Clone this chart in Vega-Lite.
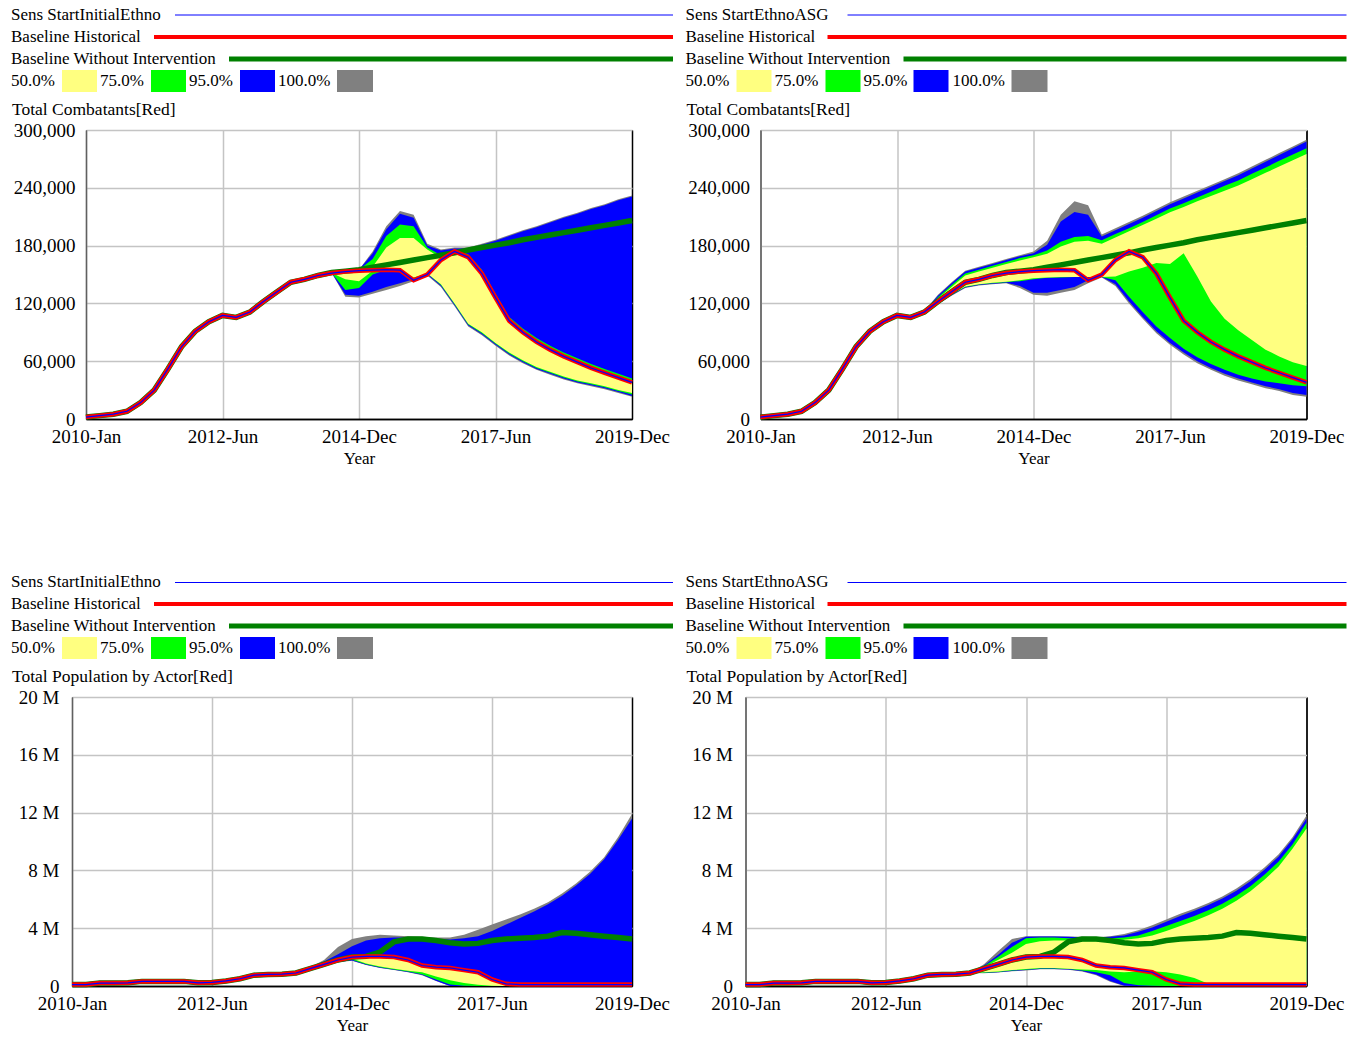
{
"$schema": "https://vega.github.io/schema/vega-lite/v6.json",
"padding": {"left": 10, "top": 4, "right": 0, "bottom": 0},
"background": "#ffffff",
"config": {
  "font": "Liberation Serif",
  "view": {"stroke": "#000000", "strokeWidth": 1},
  "axis": {"labelFont": "Liberation Serif", "labelFontSize": 19, "labelColor": "#000000", "titleFont": "Liberation Serif", "titleFontSize": 17, "titleFontWeight": "normal", "titleColor": "#000000", "ticks": false, "gridColor": "#c4c4c4", "gridWidth": 1.5, "labelOverlap": false, "labelFlush": false, "labelBound": false, "zindex": 1},
  "axisX": {"domainColor": "#000000", "domainWidth": 1.5, "labelPadding": 8, "titlePadding": 4.5},
  "axisY": {"domainColor": "#606060", "domainWidth": 1.5, "labelPadding": 11},
  "title": {"font": "Liberation Serif", "fontSize": 17.5, "fontWeight": "normal", "anchor": "start", "frame": "bounds", "offset": 3, "color": "#000000"}
},
"datasets": {
  "legend": [
    {"p": "L", "row": 0, "label": "Sens StartInitialEthno", "lx": 0, "s": "sens", "x1": 164, "x2": 662},
    {"p": "L", "row": 1, "label": "Baseline Historical", "lx": 0, "s": "hist", "x1": 143, "x2": 662},
    {"p": "L", "row": 2, "label": "Baseline Without Intervention", "lx": 0, "s": "base", "x1": 218, "x2": 662},
    {"p": "L", "row": 3, "label": "50.0%", "lx": 0, "s": "50.0%", "x1": 51, "x2": 86},
    {"p": "L", "row": 3, "label": "75.0%", "lx": 89, "s": "75.0%", "x1": 140, "x2": 175},
    {"p": "L", "row": 3, "label": "95.0%", "lx": 178, "s": "95.0%", "x1": 229, "x2": 264},
    {"p": "L", "row": 3, "label": "100.0%", "lx": 267, "s": "100.0%", "x1": 326, "x2": 362},
    {"p": "R", "row": 0, "label": "Sens StartEthnoASG", "lx": 0, "s": "sens", "x1": 162, "x2": 661},
    {"p": "R", "row": 1, "label": "Baseline Historical", "lx": 0, "s": "hist", "x1": 142, "x2": 661},
    {"p": "R", "row": 2, "label": "Baseline Without Intervention", "lx": 0, "s": "base", "x1": 218, "x2": 661},
    {"p": "R", "row": 3, "label": "50.0%", "lx": 0, "s": "50.0%", "x1": 51, "x2": 86},
    {"p": "R", "row": 3, "label": "75.0%", "lx": 89, "s": "75.0%", "x1": 140, "x2": 175},
    {"p": "R", "row": 3, "label": "95.0%", "lx": 178, "s": "95.0%", "x1": 228, "x2": 263},
    {"p": "R", "row": 3, "label": "100.0%", "lx": 267, "s": "100.0%", "x1": 326, "x2": 362}
  ],
  "comb": [
    {"t": 2010, "hist": 2, "sens": 2, "base": 2},
    {"t": 2010.25, "hist": 3.5, "sens": 3.5, "base": 3.5},
    {"t": 2010.5, "hist": 5, "sens": 5, "base": 5},
    {"t": 2010.75, "hist": 8, "sens": 8, "base": 8},
    {"t": 2011, "hist": 17, "sens": 17, "base": 17},
    {"t": 2011.25, "hist": 30, "sens": 30, "base": 30},
    {"t": 2011.5, "hist": 52, "sens": 52, "base": 52},
    {"t": 2011.75, "hist": 75, "sens": 75, "base": 75},
    {"t": 2012, "hist": 91, "sens": 91, "base": 91},
    {"t": 2012.25, "hist": 101, "sens": 101, "base": 101},
    {"t": 2012.5, "hist": 107.5, "sens": 107.5, "base": 107.5},
    {"t": 2012.75, "hist": 105.5, "sens": 105.5, "base": 105.5},
    {"t": 2013, "hist": 111, "sens": 111, "base": 111, "R100lo": 110, "R100hi": 112, "R95lo": 110.2, "R95hi": 111.8, "R75lo": 110.4, "R75hi": 111.6, "R50lo": 110.6, "R50hi": 111.4},
    {"t": 2013.25, "hist": 122, "sens": 122, "base": 122, "R100lo": 119, "R100hi": 129, "R95lo": 119.5, "R95hi": 128, "R75lo": 120, "R75hi": 126.5, "R50lo": 120.5, "R50hi": 125},
    {"t": 2013.5, "hist": 132, "sens": 132, "base": 132, "R100lo": 128, "R100hi": 142, "R95lo": 128.5, "R95hi": 141, "R75lo": 129, "R75hi": 139, "R50lo": 129.5, "R50hi": 137},
    {"t": 2013.75, "hist": 142, "sens": 142, "base": 142, "R100lo": 136, "R100hi": 154, "R95lo": 136.5, "R95hi": 153, "R75lo": 137, "R75hi": 151, "R50lo": 137.5, "R50hi": 149},
    {"t": 2014, "hist": 145, "sens": 145, "base": 145, "R100lo": 138.5, "R100hi": 158, "R95lo": 139, "R95hi": 157, "R75lo": 139.5, "R75hi": 155, "R50lo": 140, "R50hi": 153},
    {"t": 2014.25, "hist": 149, "sens": 149, "base": 149, "R100lo": 140, "R100hi": 162, "R95lo": 140.5, "R95hi": 161, "R75lo": 141, "R75hi": 159, "R50lo": 141.5, "R50hi": 157},
    {"t": 2014.5, "hist": 151.5, "sens": 151.5, "base": 152, "L100lo": 151.5, "L100hi": 151.5, "L95lo": 151.5, "L95hi": 151.5, "L75lo": 151.5, "L75hi": 151.5, "L50lo": 151.5, "L50hi": 151.5, "R100lo": 141, "R100hi": 166, "R95lo": 141.5, "R95hi": 165, "R75lo": 142, "R75hi": 163, "R50lo": 142.5, "R50hi": 161},
    {"t": 2014.75, "hist": 153, "sens": 153, "base": 153.5, "L100lo": 127, "L100hi": 153, "L95lo": 129, "L95hi": 153, "L75lo": 134, "L75hi": 153, "L50lo": 145, "L50hi": 153, "R100lo": 136, "R100hi": 170, "R95lo": 138, "R95hi": 169, "R75lo": 143, "R75hi": 167, "R50lo": 144, "R50hi": 164.5},
    {"t": 2015, "hist": 154, "sens": 154, "base": 155, "L100lo": 126, "L100hi": 155, "L95lo": 128, "L95hi": 155, "L75lo": 136, "L75hi": 155, "L50lo": 143, "L50hi": 155, "R100lo": 129, "R100hi": 174, "R95lo": 131, "R95hi": 172, "R75lo": 145, "R75hi": 170, "R50lo": 146, "R50hi": 168},
    {"t": 2015.25, "hist": 154.5, "sens": 154.5, "base": 157.5, "L100lo": 130, "L100hi": 174, "L95lo": 132, "L95hi": 172, "L75lo": 150, "L75hi": 166, "L50lo": 154, "L50hi": 158, "R100lo": 128, "R100hi": 185, "R95lo": 131, "R95hi": 181, "R75lo": 146.5, "R75hi": 175, "R50lo": 147, "R50hi": 171.5},
    {"t": 2015.5, "hist": 155, "sens": 155, "base": 160, "L100lo": 134, "L100hi": 200, "L95lo": 137, "L95hi": 197, "L75lo": 155, "L75hi": 190, "L50lo": 155, "L50hi": 178, "R100lo": 131, "R100hi": 212, "R95lo": 134, "R95hi": 205, "R75lo": 147, "R75hi": 184, "R50lo": 147.5, "R50hi": 179},
    {"t": 2015.75, "hist": 154.5, "sens": 154.5, "base": 162.5, "L100lo": 138, "L100hi": 216, "L95lo": 141, "L95hi": 213, "L75lo": 154.5, "L75hi": 202, "L50lo": 154.5, "L50hi": 188, "R100lo": 134, "R100hi": 226, "R95lo": 137, "R95hi": 215, "R75lo": 147.5, "R75hi": 189, "R50lo": 147.5, "R50hi": 184},
    {"t": 2016, "hist": 144, "sens": 144, "base": 165, "L100lo": 143, "L100hi": 212, "L95lo": 145, "L95hi": 209, "L75lo": 146, "L75hi": 200, "L50lo": 147, "L50hi": 188, "R100lo": 141, "R100hi": 222, "R95lo": 144, "R95hi": 212, "R75lo": 147.5, "R75hi": 190, "R50lo": 147.5, "R50hi": 185},
    {"t": 2016.25, "hist": 150, "sens": 150, "base": 167.5, "L100lo": 149, "L100hi": 182, "L95lo": 150, "L95hi": 180, "L75lo": 151, "L75hi": 178, "L50lo": 151, "L50hi": 176, "R100lo": 147, "R100hi": 191.5, "R95lo": 147.5, "R95hi": 189.5, "R75lo": 147.5, "R75hi": 185.5, "R50lo": 147.5, "R50hi": 182},
    {"t": 2016.5, "hist": 165, "sens": 165, "base": 170, "L100lo": 137, "L100hi": 176, "L95lo": 138, "L95hi": 175, "L75lo": 139, "L75hi": 170, "L50lo": 140, "L50hi": 167, "R100lo": 138, "R100hi": 198, "R95lo": 140, "R95hi": 196, "R75lo": 144, "R75hi": 192, "R50lo": 148, "R50hi": 188.5},
    {"t": 2016.75, "hist": 174, "sens": 174, "base": 172.5, "L100lo": 117, "L100hi": 178, "L95lo": 118, "L95hi": 177, "L75lo": 119, "L75hi": 176, "L50lo": 120, "L50hi": 173, "R100lo": 120, "R100hi": 204.5, "R95lo": 122, "R95hi": 202.5, "R75lo": 127, "R75hi": 198, "R50lo": 153, "R50hi": 195},
    {"t": 2017, "hist": 168, "sens": 168, "base": 175.5, "L100lo": 96, "L100hi": 178, "L95lo": 97, "L95hi": 177, "L75lo": 98, "L75hi": 171, "L50lo": 99, "L50hi": 167, "R100lo": 104, "R100hi": 211, "R95lo": 106, "R95hi": 209, "R75lo": 111, "R75hi": 204.5, "R50lo": 157, "R50hi": 201.5},
    {"t": 2017.25, "hist": 151, "sens": 151, "base": 178, "L100lo": 87, "L100hi": 182, "L95lo": 88, "L95hi": 181, "L75lo": 89, "L75hi": 155, "L50lo": 90, "L50hi": 150, "R100lo": 89, "R100hi": 218, "R95lo": 91, "R95hi": 216, "R75lo": 96, "R75hi": 211.5, "R50lo": 162, "R50hi": 208},
    {"t": 2017.5, "hist": 126, "sens": 126, "base": 180.5, "L100lo": 76, "L100hi": 186, "L95lo": 77, "L95hi": 185, "L75lo": 78, "L75hi": 130, "L50lo": 79, "L50hi": 125, "R100lo": 77, "R100hi": 225, "R95lo": 79, "R95hi": 223, "R75lo": 84, "R75hi": 218.5, "R50lo": 161, "R50hi": 214.5},
    {"t": 2017.75, "hist": 102, "sens": 102, "base": 183, "L100lo": 66, "L100hi": 191, "L95lo": 67, "L95hi": 190, "L75lo": 68, "L75hi": 106, "L50lo": 69, "L50hi": 101, "R100lo": 67, "R100hi": 231, "R95lo": 69, "R95hi": 229, "R75lo": 73, "R75hi": 224, "R50lo": 172, "R50hi": 220},
    {"t": 2018, "hist": 90, "sens": 90, "base": 186, "L100lo": 58, "L100hi": 196, "L95lo": 59, "L95hi": 195, "L75lo": 60, "L75hi": 94, "L50lo": 61, "L50hi": 89, "R100lo": 58, "R100hi": 237, "R95lo": 60, "R95hi": 235, "R75lo": 64, "R75hi": 230, "R50lo": 148, "R50hi": 226},
    {"t": 2018.25, "hist": 80, "sens": 80, "base": 188.5, "L100lo": 51, "L100hi": 200, "L95lo": 52, "L95hi": 199, "L75lo": 53, "L75hi": 84, "L50lo": 54, "L50hi": 79, "R100lo": 51, "R100hi": 243, "R95lo": 53, "R95hi": 241, "R75lo": 57, "R75hi": 236, "R50lo": 122, "R50hi": 231.5},
    {"t": 2018.5, "hist": 72, "sens": 72, "base": 191, "L100lo": 46, "L100hi": 205, "L95lo": 47, "L95hi": 204, "L75lo": 48, "L75hi": 76, "L50lo": 49, "L50hi": 71, "R100lo": 45, "R100hi": 249, "R95lo": 47, "R95hi": 247, "R75lo": 51, "R75hi": 242, "R50lo": 104, "R50hi": 237},
    {"t": 2018.75, "hist": 65, "sens": 65, "base": 193.5, "L100lo": 41, "L100hi": 210, "L95lo": 42, "L95hi": 209, "L75lo": 43, "L75hi": 69, "L50lo": 44, "L50hi": 64, "R100lo": 40, "R100hi": 255, "R95lo": 42, "R95hi": 253, "R75lo": 46, "R75hi": 247.5, "R50lo": 92, "R50hi": 242.5},
    {"t": 2019, "hist": 59, "sens": 59, "base": 196, "L100lo": 37, "L100hi": 214, "L95lo": 38, "L95hi": 213, "L75lo": 39, "L75hi": 63, "L50lo": 40, "L50hi": 58, "R100lo": 36, "R100hi": 262, "R95lo": 38, "R95hi": 260, "R75lo": 42, "R75hi": 254.5, "R50lo": 82, "R50hi": 249},
    {"t": 2019.25, "hist": 53, "sens": 53, "base": 198.5, "L100lo": 34, "L100hi": 219, "L95lo": 35, "L95hi": 218, "L75lo": 36, "L75hi": 57, "L50lo": 37, "L50hi": 52, "R100lo": 32, "R100hi": 269, "R95lo": 34, "R95hi": 267, "R75lo": 39, "R75hi": 261, "R50lo": 72, "R50hi": 255.5},
    {"t": 2019.5, "hist": 48, "sens": 48, "base": 201, "L100lo": 31, "L100hi": 223, "L95lo": 32, "L95hi": 222, "L75lo": 33, "L75hi": 52, "L50lo": 34, "L50hi": 47, "R100lo": 29, "R100hi": 276, "R95lo": 31, "R95hi": 274, "R75lo": 37, "R75hi": 268, "R50lo": 65, "R50hi": 262},
    {"t": 2019.75, "hist": 43, "sens": 43, "base": 203.5, "L100lo": 27, "L100hi": 228, "L95lo": 28, "L95hi": 227, "L75lo": 29, "L75hi": 47, "L50lo": 30, "L50hi": 42, "R100lo": 25, "R100hi": 283, "R95lo": 27, "R95hi": 281, "R75lo": 35, "R75hi": 274.5, "R50lo": 59, "R50hi": 268.5},
    {"t": 2020, "hist": 38, "sens": 38, "base": 206, "L100lo": 23, "L100hi": 232, "L95lo": 24, "L95hi": 231, "L75lo": 25.5, "L75hi": 42, "L50lo": 27, "L50hi": 37, "R100lo": 23, "R100hi": 290, "R95lo": 25, "R95hi": 288, "R75lo": 34, "R75hi": 281, "R50lo": 55, "R50hi": 275}
  ],
  "pop": [
    {"t": 2010, "hist": 0.1, "sens": 0.1, "base": 0.1},
    {"t": 2010.25, "hist": 0.1, "sens": 0.1, "base": 0.1},
    {"t": 2010.5, "hist": 0.2, "sens": 0.2, "base": 0.2},
    {"t": 2010.75, "hist": 0.2, "sens": 0.2, "base": 0.2},
    {"t": 2011, "hist": 0.22, "sens": 0.22, "base": 0.22},
    {"t": 2011.25, "hist": 0.32, "sens": 0.32, "base": 0.32},
    {"t": 2011.5, "hist": 0.32, "sens": 0.32, "base": 0.32},
    {"t": 2011.75, "hist": 0.32, "sens": 0.32, "base": 0.32},
    {"t": 2012, "hist": 0.32, "sens": 0.32, "base": 0.32},
    {"t": 2012.25, "hist": 0.22, "sens": 0.22, "base": 0.22},
    {"t": 2012.5, "hist": 0.25, "sens": 0.25, "base": 0.25},
    {"t": 2012.75, "hist": 0.35, "sens": 0.35, "base": 0.35},
    {"t": 2013, "hist": 0.5, "sens": 0.5, "base": 0.5},
    {"t": 2013.25, "hist": 0.75, "sens": 0.75, "base": 0.75},
    {"t": 2013.5, "hist": 0.8, "sens": 0.8, "base": 0.8},
    {"t": 2013.75, "hist": 0.82, "sens": 0.82, "base": 0.82},
    {"t": 2014, "hist": 0.9, "sens": 0.9, "base": 0.9, "R100lo": 0.9, "R100hi": 0.9, "R95lo": 0.9, "R95hi": 0.9, "R75lo": 0.9, "R75hi": 0.9, "R50lo": 0.9, "R50hi": 0.9},
    {"t": 2014.25, "hist": 1.2, "sens": 1.2, "base": 1.2, "L100lo": 1.15, "L100hi": 1.3, "L95lo": 1.15, "L95hi": 1.28, "L75lo": 1.17, "L75hi": 1.25, "L50lo": 1.18, "L50hi": 1.22, "R100lo": 0.88, "R100hi": 1.5, "R95lo": 0.9, "R95hi": 1.42, "R75lo": 0.92, "R75hi": 1.36, "R50lo": 0.95, "R50hi": 1.3},
    {"t": 2014.5, "hist": 1.5, "sens": 1.5, "base": 1.5, "L100lo": 1.45, "L100hi": 1.8, "L95lo": 1.45, "L95hi": 1.7, "L75lo": 1.47, "L75hi": 1.58, "L50lo": 1.48, "L50hi": 1.52, "R100lo": 0.93, "R100hi": 2.4, "R95lo": 0.95, "R95hi": 2.15, "R75lo": 0.97, "R75hi": 2.0, "R50lo": 1.0, "R50hi": 1.8},
    {"t": 2014.75, "hist": 1.8, "sens": 1.8, "base": 1.8, "L100lo": 1.65, "L100hi": 2.7, "L95lo": 1.67, "L95hi": 2.2, "L75lo": 1.7, "L75hi": 1.9, "L50lo": 1.75, "L50hi": 1.82, "R100lo": 1.02, "R100hi": 3.25, "R95lo": 1.04, "R95hi": 3.0, "R75lo": 1.07, "R75hi": 2.7, "R50lo": 1.1, "R50hi": 2.3},
    {"t": 2015, "hist": 2.0, "sens": 2.0, "base": 2.0, "L100lo": 1.75, "L100hi": 3.25, "L95lo": 1.77, "L95hi": 2.75, "L75lo": 1.82, "L75hi": 2.05, "L50lo": 1.9, "L50hi": 2.0, "R100lo": 1.08, "R100hi": 3.45, "R95lo": 1.1, "R95hi": 3.4, "R75lo": 1.13, "R75hi": 3.3, "R50lo": 1.17, "R50hi": 2.9},
    {"t": 2015.25, "hist": 2.05, "sens": 2.05, "base": 2.05, "L100lo": 1.45, "L100hi": 3.45, "L95lo": 1.47, "L95hi": 3.15, "L75lo": 1.5, "L75hi": 2.1, "L50lo": 1.55, "L50hi": 2.03, "R100lo": 1.16, "R100hi": 3.45, "R95lo": 1.18, "R95hi": 3.42, "R75lo": 1.21, "R75hi": 3.35, "R50lo": 1.25, "R50hi": 3.1},
    {"t": 2015.5, "hist": 2.05, "sens": 2.05, "base": 2.35, "L100lo": 1.25, "L100hi": 3.55, "L95lo": 1.27, "L95hi": 3.3, "L75lo": 1.3, "L75hi": 2.1, "L50lo": 1.35, "L50hi": 2.03, "R100lo": 1.16, "R100hi": 3.45, "R95lo": 1.18, "R95hi": 3.42, "R75lo": 1.21, "R75hi": 3.35, "R50lo": 1.25, "R50hi": 3.15},
    {"t": 2015.75, "hist": 2.0, "sens": 2.0, "base": 3.05, "L100lo": 1.1, "L100hi": 3.5, "L95lo": 1.12, "L95hi": 3.35, "L75lo": 1.15, "L75hi": 2.05, "L50lo": 1.2, "L50hi": 1.98, "R100lo": 1.12, "R100hi": 3.42, "R95lo": 1.14, "R95hi": 3.4, "R75lo": 1.17, "R75hi": 3.3, "R50lo": 1.2, "R50hi": 3.15},
    {"t": 2016, "hist": 1.8, "sens": 1.8, "base": 3.25, "L100lo": 0.95, "L100hi": 3.45, "L95lo": 0.97, "L95hi": 3.35, "L75lo": 1.0, "L75hi": 1.85, "L50lo": 1.05, "L50hi": 1.78, "R100lo": 1.0, "R100hi": 3.4, "R95lo": 1.03, "R95hi": 3.37, "R75lo": 1.08, "R75hi": 3.25, "R50lo": 1.15, "R50hi": 3.1},
    {"t": 2016.25, "hist": 1.42, "sens": 1.42, "base": 3.25, "L100lo": 0.75, "L100hi": 3.4, "L95lo": 0.77, "L95hi": 3.3, "L75lo": 0.82, "L75hi": 1.47, "L50lo": 0.95, "L50hi": 1.4, "R100lo": 0.75, "R100hi": 3.38, "R95lo": 0.8, "R95hi": 3.35, "R75lo": 0.95, "R75hi": 3.25, "R50lo": 1.1, "R50hi": 3.1},
    {"t": 2016.5, "hist": 1.3, "sens": 1.3, "base": 3.15, "L100lo": 0.35, "L100hi": 3.35, "L95lo": 0.37, "L95hi": 3.25, "L75lo": 0.45, "L75hi": 1.33, "L50lo": 0.65, "L50hi": 1.27, "R100lo": 0.3, "R100hi": 3.45, "R95lo": 0.35, "R95hi": 3.4, "R75lo": 0.75, "R75hi": 3.3, "R50lo": 1.0, "R50hi": 3.15},
    {"t": 2016.75, "hist": 1.25, "sens": 1.25, "base": 3.0, "L100lo": 0, "L100hi": 3.35, "L95lo": 0, "L95hi": 3.22, "L75lo": 0.1, "L75hi": 1.28, "L50lo": 0.4, "L50hi": 1.22, "R100lo": 0, "R100hi": 3.6, "R95lo": 0.02, "R95hi": 3.5, "R75lo": 0.2, "R75hi": 3.35, "R50lo": 0.95, "R50hi": 3.2},
    {"t": 2017, "hist": 1.1, "sens": 1.1, "base": 2.9, "L100lo": 0, "L100hi": 3.55, "L95lo": 0, "L95hi": 3.3, "L75lo": 0.02, "L75hi": 1.13, "L50lo": 0.2, "L50hi": 1.07, "R100lo": 0, "R100hi": 3.85, "R95lo": 0, "R95hi": 3.75, "R75lo": 0.05, "R75hi": 3.5, "R50lo": 1.0, "R50hi": 3.3},
    {"t": 2017.25, "hist": 0.95, "sens": 0.95, "base": 2.95, "L100lo": 0, "L100hi": 3.9, "L95lo": 0, "L95hi": 3.45, "L75lo": 0, "L75hi": 0.98, "L50lo": 0.08, "L50hi": 0.92, "R100lo": 0, "R100hi": 4.2, "R95lo": 0, "R95hi": 4.05, "R75lo": 0.02, "R75hi": 3.8, "R50lo": 1.02, "R50hi": 3.5},
    {"t": 2017.5, "hist": 0.45, "sens": 0.45, "base": 3.15, "L100lo": 0, "L100hi": 4.25, "L95lo": 0, "L95hi": 3.8, "L75lo": 0, "L75hi": 0.5, "L50lo": 0.02, "L50hi": 0.43, "R100lo": 0, "R100hi": 4.6, "R95lo": 0, "R95hi": 4.45, "R75lo": 0, "R75hi": 4.15, "R50lo": 0.95, "R50hi": 3.8},
    {"t": 2017.75, "hist": 0.15, "sens": 0.15, "base": 3.25, "L100lo": 0, "L100hi": 4.6, "L95lo": 0, "L95hi": 4.25, "L75lo": 0, "L75hi": 0.18, "L50lo": 0, "L50hi": 0.13, "R100lo": 0, "R100hi": 5.0, "R95lo": 0, "R95hi": 4.85, "R75lo": 0, "R75hi": 4.5, "R50lo": 0.8, "R50hi": 4.15},
    {"t": 2018, "hist": 0.1, "sens": 0.1, "base": 3.3, "L100lo": 0, "L100hi": 4.95, "L95lo": 0, "L95hi": 4.7, "L75lo": 0, "L75hi": 0.12, "L50lo": 0, "L50hi": 0.1, "R100lo": 0, "R100hi": 5.35, "R95lo": 0, "R95hi": 5.2, "R75lo": 0, "R75hi": 4.85, "R50lo": 0.55, "R50hi": 4.5},
    {"t": 2018.25, "hist": 0.1, "sens": 0.1, "base": 3.35, "L100lo": 0, "L100hi": 5.35, "L95lo": 0, "L95hi": 5.15, "L75lo": 0, "L75hi": 0.12, "L50lo": 0, "L50hi": 0.1, "R100lo": 0, "R100hi": 5.75, "R95lo": 0, "R95hi": 5.6, "R75lo": 0, "R75hi": 5.25, "R50lo": 0.15, "R50hi": 4.9},
    {"t": 2018.5, "hist": 0.1, "sens": 0.1, "base": 3.45, "L100lo": 0, "L100hi": 5.8, "L95lo": 0, "L95hi": 5.65, "L75lo": 0, "L75hi": 0.12, "L50lo": 0, "L50hi": 0.1, "R100lo": 0, "R100hi": 6.2, "R95lo": 0, "R95hi": 6.05, "R75lo": 0, "R75hi": 5.7, "R50lo": 0, "R50hi": 5.35},
    {"t": 2018.75, "hist": 0.1, "sens": 0.1, "base": 3.7, "L100lo": 0, "L100hi": 6.4, "L95lo": 0, "L95hi": 6.25, "L75lo": 0, "L75hi": 0.12, "L50lo": 0, "L50hi": 0.1, "R100lo": 0, "R100hi": 6.75, "R95lo": 0, "R95hi": 6.6, "R75lo": 0, "R75hi": 6.25, "R50lo": 0, "R50hi": 5.9},
    {"t": 2019, "hist": 0.1, "sens": 0.1, "base": 3.65, "L100lo": 0, "L100hi": 7.1, "L95lo": 0, "L95hi": 6.95, "L75lo": 0, "L75hi": 0.12, "L50lo": 0, "L50hi": 0.1, "R100lo": 0, "R100hi": 7.4, "R95lo": 0, "R95hi": 7.25, "R75lo": 0, "R75hi": 6.9, "R50lo": 0, "R50hi": 6.55},
    {"t": 2019.25, "hist": 0.1, "sens": 0.1, "base": 3.55, "L100lo": 0, "L100hi": 7.9, "L95lo": 0, "L95hi": 7.75, "L75lo": 0, "L75hi": 0.12, "L50lo": 0, "L50hi": 0.1, "R100lo": 0, "R100hi": 8.2, "R95lo": 0, "R95hi": 8.05, "R75lo": 0, "R75hi": 7.7, "R50lo": 0, "R50hi": 7.35},
    {"t": 2019.5, "hist": 0.1, "sens": 0.1, "base": 3.45, "L100lo": 0, "L100hi": 8.9, "L95lo": 0, "L95hi": 8.75, "L75lo": 0, "L75hi": 0.12, "L50lo": 0, "L50hi": 0.1, "R100lo": 0, "R100hi": 9.1, "R95lo": 0, "R95hi": 8.95, "R75lo": 0, "R75hi": 8.6, "R50lo": 0, "R50hi": 8.25},
    {"t": 2019.75, "hist": 0.1, "sens": 0.1, "base": 3.35, "L100lo": 0, "L100hi": 10.3, "L95lo": 0, "L95hi": 10.1, "L75lo": 0, "L75hi": 0.12, "L50lo": 0, "L50hi": 0.1, "R100lo": 0, "R100hi": 10.3, "R95lo": 0, "R95hi": 10.15, "R75lo": 0, "R75hi": 9.8, "R50lo": 0, "R50hi": 9.5},
    {"t": 2020, "hist": 0.1, "sens": 0.1, "base": 3.25, "L100lo": 0, "L100hi": 11.9, "L95lo": 0, "L95hi": 11.6, "L75lo": 0, "L75hi": 0.12, "L50lo": 0, "L50hi": 0.1, "R100lo": 0, "R100hi": 11.8, "R95lo": 0, "R95hi": 11.6, "R75lo": 0, "R75hi": 11.3, "R50lo": 0, "R50hi": 10.9}
  ]
},
"concat": [
  {"concat": [
    {"width": 1, "height": 1, "view": {"stroke": null}, "data": {"values": []}, "mark": "point"},
    {"width": 662, "height": 88, "view": {"stroke": null}, "data": {"name": "legend"}, "transform": [{"filter": "datum.p == 'L'"}],
     "encoding": {"y": {"field": "row", "type": "ordinal", "axis": null, "scale": {"paddingInner": 0, "paddingOuter": 0}}},
     "layer": [
       {"mark": {"type": "text", "align": "left", "baseline": "middle", "fontSize": 17, "font": "Liberation Serif", "color": "#000000"}, "encoding": {"x": {"field": "lx", "type": "quantitative", "axis": null, "scale": {"domain": [0, 662], "nice": false, "zero": false}}, "text": {"field": "label"}}},
       {"transform": [{"filter": "datum.s == 'sens'"}], "mark": {"type": "rule", "color": "#0000ff", "strokeWidth": 1}, "encoding": {"x": {"field": "x1", "type": "quantitative", "axis": null}, "x2": {"field": "x2"}}},
       {"transform": [{"filter": "datum.s == 'hist'"}], "mark": {"type": "rule", "color": "#ff0000", "strokeWidth": 4}, "encoding": {"x": {"field": "x1", "type": "quantitative", "axis": null}, "x2": {"field": "x2"}}},
       {"transform": [{"filter": "datum.s == 'base'"}], "mark": {"type": "rule", "color": "#008000", "strokeWidth": 5}, "encoding": {"x": {"field": "x1", "type": "quantitative", "axis": null}, "x2": {"field": "x2"}}},
       {"transform": [{"filter": "datum.row == 3"}], "mark": {"type": "rect"}, "encoding": {"x": {"field": "x1", "type": "quantitative", "axis": null}, "x2": {"field": "x2"}, "color": {"field": "s", "type": "nominal", "legend": null, "scale": {"domain": ["50.0%", "75.0%", "95.0%", "100.0%"], "range": ["#ffff80", "#00ff00", "#0000ff", "#808080"]}}}}
     ]},
    {"width": 1, "height": 1, "view": {"stroke": null}, "data": {"values": []}, "mark": "point"},
    {"width": 546, "height": 289, "title": "Total Combatants[Red]", "data": {"name": "comb"},
     "encoding": {"x": {"field": "t", "type": "quantitative", "title": "Year", "scale": {"domain": [2010, 2020], "nice": false, "zero": false}, "axis": {"values": [2010, 2012.5, 2015, 2017.5, 2020], "labelExpr": "datum.value == 2010 ? '2010-Jan' : datum.value == 2012.5 ? '2012-Jun' : datum.value == 2015 ? '2014-Dec' : datum.value == 2017.5 ? '2017-Jun' : '2019-Dec'", "gridColor": {"condition": {"test": "datum.value == 2020", "value": "#000000"}, "value": "#c4c4c4"}}}},
     "layer": [
       {"mark": {"type": "area", "color": "#808080"}, "encoding": {"y": {"field": "L100lo", "type": "quantitative", "title": null, "scale": {"domain": [0, 300], "nice": false}, "axis": {"values": [0, 60, 120, 180, 240, 300], "labelExpr": "format(datum.value * 1000, ',')", "minExtent": 74, "gridColor": {"condition": {"test": "datum.value == 0", "value": "#000000"}, "value": "#c4c4c4"}}}, "y2": {"field": "L100hi"}}},
       {"mark": {"type": "area", "color": "#0000ff"}, "encoding": {"y": {"field": "L95lo", "type": "quantitative", "title": null}, "y2": {"field": "L95hi"}}},
       {"mark": {"type": "area", "color": "#00ff00"}, "encoding": {"y": {"field": "L75lo", "type": "quantitative", "title": null}, "y2": {"field": "L75hi"}}},
       {"mark": {"type": "area", "color": "#ffff80"}, "encoding": {"y": {"field": "L50lo", "type": "quantitative", "title": null}, "y2": {"field": "L50hi"}}},
       {"mark": {"type": "line", "color": "#008000", "strokeWidth": 5.5}, "encoding": {"y": {"field": "base", "type": "quantitative", "title": null}}},
       {"mark": {"type": "line", "color": "#ff0000", "strokeWidth": 4.5}, "encoding": {"y": {"field": "hist", "type": "quantitative", "title": null}}},
       {"mark": {"type": "line", "color": "#0000ff", "strokeWidth": 1.2}, "encoding": {"y": {"field": "sens", "type": "quantitative", "title": null}}}
     ]}
  ], "columns": 2, "align": "none", "spacing": {"row": 8, "column": 0}},
  {"concat": [
    {"width": 1, "height": 1, "view": {"stroke": null}, "data": {"values": []}, "mark": "point"},
    {"width": 661, "height": 88, "view": {"stroke": null}, "data": {"name": "legend"}, "transform": [{"filter": "datum.p == 'R'"}],
     "encoding": {"y": {"field": "row", "type": "ordinal", "axis": null, "scale": {"paddingInner": 0, "paddingOuter": 0}}},
     "layer": [
       {"mark": {"type": "text", "align": "left", "baseline": "middle", "fontSize": 17, "font": "Liberation Serif", "color": "#000000"}, "encoding": {"x": {"field": "lx", "type": "quantitative", "axis": null, "scale": {"domain": [0, 661], "nice": false, "zero": false}}, "text": {"field": "label"}}},
       {"transform": [{"filter": "datum.s == 'sens'"}], "mark": {"type": "rule", "color": "#0000ff", "strokeWidth": 1}, "encoding": {"x": {"field": "x1", "type": "quantitative", "axis": null}, "x2": {"field": "x2"}}},
       {"transform": [{"filter": "datum.s == 'hist'"}], "mark": {"type": "rule", "color": "#ff0000", "strokeWidth": 4}, "encoding": {"x": {"field": "x1", "type": "quantitative", "axis": null}, "x2": {"field": "x2"}}},
       {"transform": [{"filter": "datum.s == 'base'"}], "mark": {"type": "rule", "color": "#008000", "strokeWidth": 5}, "encoding": {"x": {"field": "x1", "type": "quantitative", "axis": null}, "x2": {"field": "x2"}}},
       {"transform": [{"filter": "datum.row == 3"}], "mark": {"type": "rect"}, "encoding": {"x": {"field": "x1", "type": "quantitative", "axis": null}, "x2": {"field": "x2"}, "color": {"field": "s", "type": "nominal", "legend": null, "scale": {"domain": ["50.0%", "75.0%", "95.0%", "100.0%"], "range": ["#ffff80", "#00ff00", "#0000ff", "#808080"]}}}}
     ]},
    {"width": 1, "height": 1, "view": {"stroke": null}, "data": {"values": []}, "mark": "point"},
    {"width": 546, "height": 289, "title": "Total Combatants[Red]", "data": {"name": "comb"},
     "encoding": {"x": {"field": "t", "type": "quantitative", "title": "Year", "scale": {"domain": [2010, 2020], "nice": false, "zero": false}, "axis": {"values": [2010, 2012.5, 2015, 2017.5, 2020], "labelExpr": "datum.value == 2010 ? '2010-Jan' : datum.value == 2012.5 ? '2012-Jun' : datum.value == 2015 ? '2014-Dec' : datum.value == 2017.5 ? '2017-Jun' : '2019-Dec'", "gridColor": {"condition": {"test": "datum.value == 2020", "value": "#000000"}, "value": "#c4c4c4"}}}},
     "layer": [
       {"mark": {"type": "area", "color": "#808080"}, "encoding": {"y": {"field": "R100lo", "type": "quantitative", "title": null, "scale": {"domain": [0, 300], "nice": false}, "axis": {"values": [0, 60, 120, 180, 240, 300], "labelExpr": "format(datum.value * 1000, ',')", "minExtent": 74, "gridColor": {"condition": {"test": "datum.value == 0", "value": "#000000"}, "value": "#c4c4c4"}}}, "y2": {"field": "R100hi"}}},
       {"mark": {"type": "area", "color": "#0000ff"}, "encoding": {"y": {"field": "R95lo", "type": "quantitative", "title": null}, "y2": {"field": "R95hi"}}},
       {"mark": {"type": "area", "color": "#00ff00"}, "encoding": {"y": {"field": "R75lo", "type": "quantitative", "title": null}, "y2": {"field": "R75hi"}}},
       {"mark": {"type": "area", "color": "#ffff80"}, "encoding": {"y": {"field": "R50lo", "type": "quantitative", "title": null}, "y2": {"field": "R50hi"}}},
       {"mark": {"type": "line", "color": "#008000", "strokeWidth": 5.5}, "encoding": {"y": {"field": "base", "type": "quantitative", "title": null}}},
       {"mark": {"type": "line", "color": "#ff0000", "strokeWidth": 4.5}, "encoding": {"y": {"field": "hist", "type": "quantitative", "title": null}}},
       {"mark": {"type": "line", "color": "#0000ff", "strokeWidth": 1.2}, "encoding": {"y": {"field": "sens", "type": "quantitative", "title": null}}}
     ]}
  ], "columns": 2, "align": "none", "spacing": {"row": 8, "column": 0}},
  {"concat": [
    {"width": 1, "height": 1, "view": {"stroke": null}, "data": {"values": []}, "mark": "point"},
    {"width": 662, "height": 88, "view": {"stroke": null}, "data": {"name": "legend"}, "transform": [{"filter": "datum.p == 'L'"}],
     "encoding": {"y": {"field": "row", "type": "ordinal", "axis": null, "scale": {"paddingInner": 0, "paddingOuter": 0}}},
     "layer": [
       {"mark": {"type": "text", "align": "left", "baseline": "middle", "fontSize": 17, "font": "Liberation Serif", "color": "#000000"}, "encoding": {"x": {"field": "lx", "type": "quantitative", "axis": null, "scale": {"domain": [0, 662], "nice": false, "zero": false}}, "text": {"field": "label"}}},
       {"transform": [{"filter": "datum.s == 'sens'"}], "mark": {"type": "rule", "color": "#0000ff", "strokeWidth": 1, "yOffset": 0.5}, "encoding": {"x": {"field": "x1", "type": "quantitative", "axis": null}, "x2": {"field": "x2"}}},
       {"transform": [{"filter": "datum.s == 'hist'"}], "mark": {"type": "rule", "color": "#ff0000", "strokeWidth": 4}, "encoding": {"x": {"field": "x1", "type": "quantitative", "axis": null}, "x2": {"field": "x2"}}},
       {"transform": [{"filter": "datum.s == 'base'"}], "mark": {"type": "rule", "color": "#008000", "strokeWidth": 5}, "encoding": {"x": {"field": "x1", "type": "quantitative", "axis": null}, "x2": {"field": "x2"}}},
       {"transform": [{"filter": "datum.row == 3"}], "mark": {"type": "rect"}, "encoding": {"x": {"field": "x1", "type": "quantitative", "axis": null}, "x2": {"field": "x2"}, "color": {"field": "s", "type": "nominal", "legend": null, "scale": {"domain": ["50.0%", "75.0%", "95.0%", "100.0%"], "range": ["#ffff80", "#00ff00", "#0000ff", "#808080"]}}}}
     ]},
    {"width": 1, "height": 1, "view": {"stroke": null}, "data": {"values": []}, "mark": "point"},
    {"width": 560, "height": 289, "title": "Total Population by Actor[Red]", "data": {"name": "pop"},
     "encoding": {"x": {"field": "t", "type": "quantitative", "title": "Year", "scale": {"domain": [2010, 2020], "nice": false, "zero": false}, "axis": {"values": [2010, 2012.5, 2015, 2017.5, 2020], "labelExpr": "datum.value == 2010 ? '2010-Jan' : datum.value == 2012.5 ? '2012-Jun' : datum.value == 2015 ? '2014-Dec' : datum.value == 2017.5 ? '2017-Jun' : '2019-Dec'", "gridColor": {"condition": {"test": "datum.value == 2020", "value": "#000000"}, "value": "#c4c4c4"}}}},
     "layer": [
       {"mark": {"type": "area", "color": "#808080"}, "encoding": {"y": {"field": "L100lo", "type": "quantitative", "title": null, "scale": {"domain": [0, 20], "nice": false}, "axis": {"values": [0, 4, 8, 12, 16, 20], "labelExpr": "datum.value == 0 ? '0' : datum.value + ' M'", "minExtent": 60, "labelPadding": 13, "gridColor": {"condition": {"test": "datum.value == 0", "value": "#000000"}, "value": "#c4c4c4"}}}, "y2": {"field": "L100hi"}}},
       {"mark": {"type": "area", "color": "#0000ff"}, "encoding": {"y": {"field": "L95lo", "type": "quantitative", "title": null}, "y2": {"field": "L95hi"}}},
       {"mark": {"type": "area", "color": "#00ff00"}, "encoding": {"y": {"field": "L75lo", "type": "quantitative", "title": null}, "y2": {"field": "L75hi"}}},
       {"mark": {"type": "area", "color": "#ffff80"}, "encoding": {"y": {"field": "L50lo", "type": "quantitative", "title": null}, "y2": {"field": "L50hi"}}},
       {"mark": {"type": "line", "color": "#008000", "strokeWidth": 5.5}, "encoding": {"y": {"field": "base", "type": "quantitative", "title": null}}},
       {"mark": {"type": "line", "color": "#ff0000", "strokeWidth": 4.5}, "encoding": {"y": {"field": "hist", "type": "quantitative", "title": null}}},
       {"mark": {"type": "line", "color": "#0000ff", "strokeWidth": 1.2}, "encoding": {"y": {"field": "sens", "type": "quantitative", "title": null}}}
     ]}
  ], "columns": 2, "align": "none", "spacing": {"row": 8, "column": 0}},
  {"concat": [
    {"width": 1, "height": 1, "view": {"stroke": null}, "data": {"values": []}, "mark": "point"},
    {"width": 661, "height": 88, "view": {"stroke": null}, "data": {"name": "legend"}, "transform": [{"filter": "datum.p == 'R'"}],
     "encoding": {"y": {"field": "row", "type": "ordinal", "axis": null, "scale": {"paddingInner": 0, "paddingOuter": 0}}},
     "layer": [
       {"mark": {"type": "text", "align": "left", "baseline": "middle", "fontSize": 17, "font": "Liberation Serif", "color": "#000000"}, "encoding": {"x": {"field": "lx", "type": "quantitative", "axis": null, "scale": {"domain": [0, 661], "nice": false, "zero": false}}, "text": {"field": "label"}}},
       {"transform": [{"filter": "datum.s == 'sens'"}], "mark": {"type": "rule", "color": "#0000ff", "strokeWidth": 1, "yOffset": 0.5}, "encoding": {"x": {"field": "x1", "type": "quantitative", "axis": null}, "x2": {"field": "x2"}}},
       {"transform": [{"filter": "datum.s == 'hist'"}], "mark": {"type": "rule", "color": "#ff0000", "strokeWidth": 4}, "encoding": {"x": {"field": "x1", "type": "quantitative", "axis": null}, "x2": {"field": "x2"}}},
       {"transform": [{"filter": "datum.s == 'base'"}], "mark": {"type": "rule", "color": "#008000", "strokeWidth": 5}, "encoding": {"x": {"field": "x1", "type": "quantitative", "axis": null}, "x2": {"field": "x2"}}},
       {"transform": [{"filter": "datum.row == 3"}], "mark": {"type": "rect"}, "encoding": {"x": {"field": "x1", "type": "quantitative", "axis": null}, "x2": {"field": "x2"}, "color": {"field": "s", "type": "nominal", "legend": null, "scale": {"domain": ["50.0%", "75.0%", "95.0%", "100.0%"], "range": ["#ffff80", "#00ff00", "#0000ff", "#808080"]}}}}
     ]},
    {"width": 1, "height": 1, "view": {"stroke": null}, "data": {"values": []}, "mark": "point"},
    {"width": 561, "height": 289, "title": "Total Population by Actor[Red]", "data": {"name": "pop"},
     "encoding": {"x": {"field": "t", "type": "quantitative", "title": "Year", "scale": {"domain": [2010, 2020], "nice": false, "zero": false}, "axis": {"values": [2010, 2012.5, 2015, 2017.5, 2020], "labelExpr": "datum.value == 2010 ? '2010-Jan' : datum.value == 2012.5 ? '2012-Jun' : datum.value == 2015 ? '2014-Dec' : datum.value == 2017.5 ? '2017-Jun' : '2019-Dec'", "gridColor": {"condition": {"test": "datum.value == 2020", "value": "#000000"}, "value": "#c4c4c4"}}}},
     "layer": [
       {"mark": {"type": "area", "color": "#808080"}, "encoding": {"y": {"field": "R100lo", "type": "quantitative", "title": null, "scale": {"domain": [0, 20], "nice": false}, "axis": {"values": [0, 4, 8, 12, 16, 20], "labelExpr": "datum.value == 0 ? '0' : datum.value + ' M'", "minExtent": 59, "labelPadding": 13, "gridColor": {"condition": {"test": "datum.value == 0", "value": "#000000"}, "value": "#c4c4c4"}}}, "y2": {"field": "R100hi"}}},
       {"mark": {"type": "area", "color": "#0000ff"}, "encoding": {"y": {"field": "R95lo", "type": "quantitative", "title": null}, "y2": {"field": "R95hi"}}},
       {"mark": {"type": "area", "color": "#00ff00"}, "encoding": {"y": {"field": "R75lo", "type": "quantitative", "title": null}, "y2": {"field": "R75hi"}}},
       {"mark": {"type": "area", "color": "#ffff80"}, "encoding": {"y": {"field": "R50lo", "type": "quantitative", "title": null}, "y2": {"field": "R50hi"}}},
       {"mark": {"type": "line", "color": "#008000", "strokeWidth": 5.5}, "encoding": {"y": {"field": "base", "type": "quantitative", "title": null}}},
       {"mark": {"type": "line", "color": "#ff0000", "strokeWidth": 4.5}, "encoding": {"y": {"field": "hist", "type": "quantitative", "title": null}}},
       {"mark": {"type": "line", "color": "#0000ff", "strokeWidth": 1.2}, "encoding": {"y": {"field": "sens", "type": "quantitative", "title": null}}}
     ]}
  ], "columns": 2, "align": "none", "spacing": {"row": 8, "column": 0}}
],
"columns": 2,
"align": "none",
"spacing": {"row": 104, "column": 8.5}
}
